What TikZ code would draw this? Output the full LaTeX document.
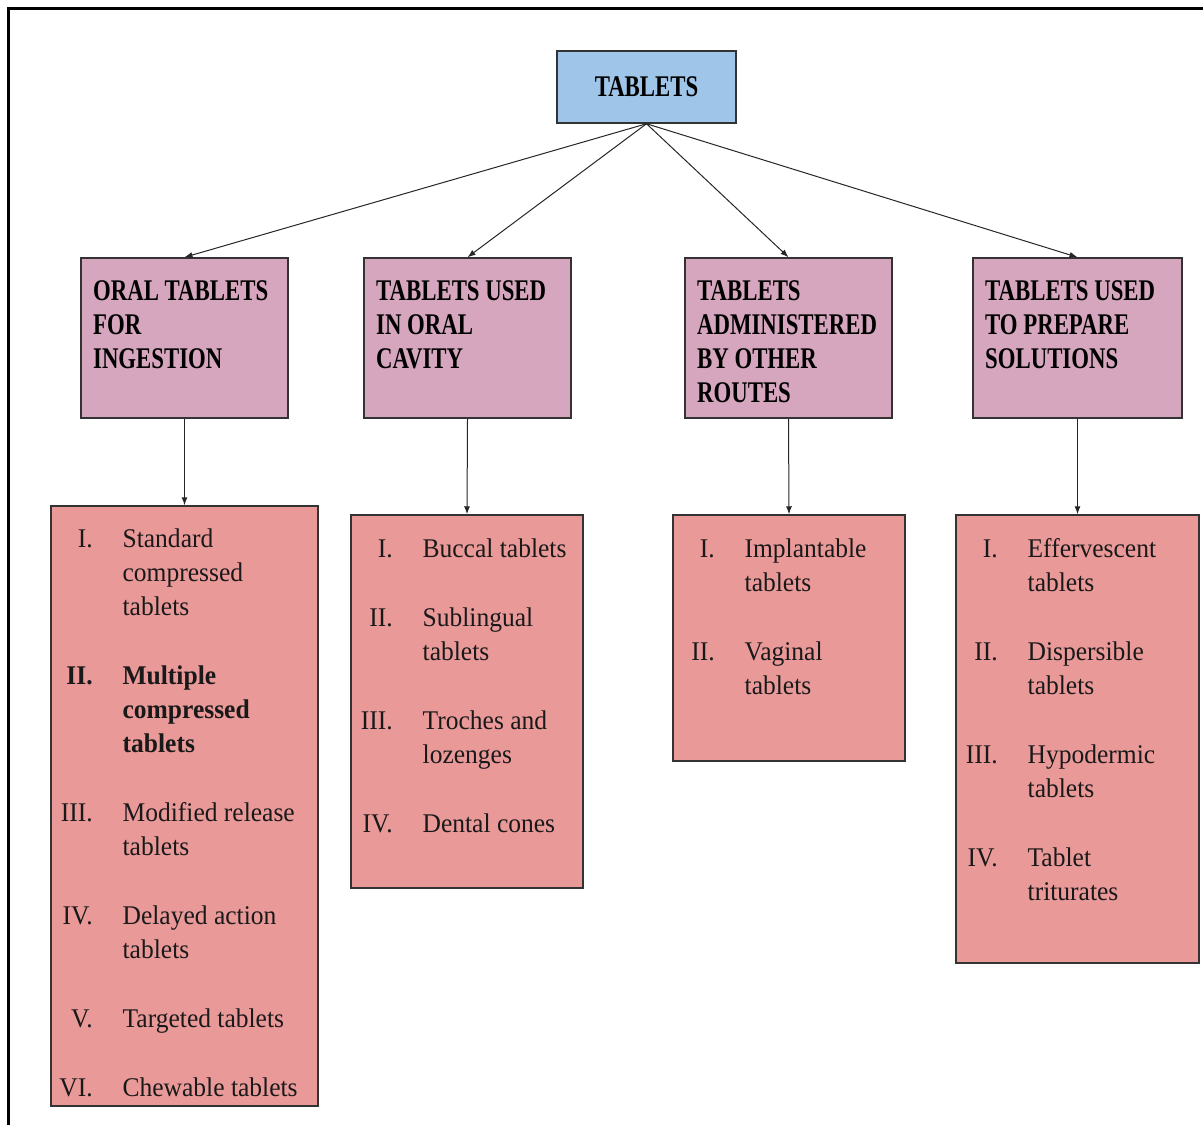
\documentclass[tikz,border=0pt]{standalone}
\usepackage{fontspec}
\usepackage{array}
\usetikzlibrary{positioning,arrows.meta}
\setmainfont{Liberation Serif}
\newfontfamily\headfont[FakeStretch=0.76]{Liberation Serif}
\newfontfamily\itemfont[FakeStretch=0.945]{Liberation Serif}
\newcommand\headsize{\headfont\bfseries\fontsize{15}{17}\selectfont}
\newcommand\itemsize{\itemfont\fontsize{13.5}{17}\selectfont}
\newcolumntype{N}{>{\raggedleft\arraybackslash}p{21pt}@{\hspace{15pt}}l}
\definecolor{topblue}{HTML}{9FC5E8}
\definecolor{catpink}{HTML}{D5A6BD}
\definecolor{listred}{HTML}{EA9999}
\definecolor{edgegray}{HTML}{333333}

\begin{document}
\begin{tikzpicture}[x=0.5pt,y=-0.5pt,
    box/.style={draw=edgegray,line width=0.75pt,inner sep=0pt},
    catbox/.style={box,fill=catpink,minimum width=103.5pt,minimum height=80pt},
    listbox/.style={box,fill=listred},
    headtext/.style={anchor=north west,inner sep=0pt,font=\headsize,xshift=6.25pt,yshift=-11.6pt},
    itemtext/.style={anchor=north west,inner sep=0pt,font=\itemsize,text=black!90,yshift=-9.6pt},
    link/.style={->,draw=black!85,line width=0.5pt},
    >={Latex[length=4pt,width=3pt]}]
  \useasboundingbox (0,0) rectangle (1203,1125);
  % page frame, only top and left show
  \draw[line width=1.5pt] (8,1125) -- (8,8) -- (1203,8);

  % root
  \node[box,fill=topblue,minimum width=89.5pt,minimum height=36pt,font=\headsize] (tablets) at (646.5,87) {TABLETS};

  % categories
  \node[catbox] (oral) at (184.5,338) {};
  \node[catbox] (cavity) at (467.5,338) {};
  \node[catbox] (routes) at (788.5,338) {};
  \node[catbox,minimum width=104.5pt] (solutions) at (1077.5,338) {};
  \node[headtext,align=left] (oralT) at (oral.north west) {ORAL TABLETS\\FOR\\INGESTION};
  \node[headtext,align=left] (cavityT) at (cavity.north west) {TABLETS USED\\IN ORAL\\CAVITY};
  \node[headtext,align=left] (routesT) at (routes.north west) {TABLETS\\ADMINISTERED\\BY OTHER\\ROUTES};
  \node[headtext,align=left] (solutionsT) at (solutions.north west) {TABLETS USED\\TO PREPARE\\SOLUTIONS};

  % lists
  \node[listbox,minimum width=133.5pt,minimum height=300pt] (oralList) at (184.5,806) {};
  \node[listbox,minimum width=116pt,minimum height=186.5pt] (cavityList) at (467,701.5) {};
  \node[listbox,minimum width=116pt,minimum height=123pt] (routesList) at (789,638) {};
  \node[listbox,minimum width=121.5pt,minimum height=224pt] (solutionsList) at (1077.5,739) {};

  \node[itemtext,yshift=0.5pt] (oralItems) at (oralList.north west) {%
    \begin{tabular}{@{}N@{}}
      I. & Standard\\ & compressed\\ & tablets\\[17.5pt]
      \textbf{II.} & \textbf{Multiple}\\ & \textbf{compressed}\\ & \textbf{tablets}\\[17.5pt]
      III. & Modified release\\ & tablets\\[17.5pt]
      IV. & Delayed action\\ & tablets\\[17.5pt]
      V. & Targeted tablets\\[17.5pt]
      VI. & Chewable tablets
    \end{tabular}};
  \node[itemtext] (cavityItems) at (cavityList.north west) {%
    \begin{tabular}{@{}N@{}}
      I. & Buccal tablets\\[17.5pt]
      II. & Sublingual\\ & tablets\\[17.5pt]
      III. & Troches and\\ & lozenges\\[17.5pt]
      IV. & Dental cones
    \end{tabular}};
  \node[itemtext] (routesItems) at (routesList.north west) {%
    \begin{tabular}{@{}N@{}}
      I. & Implantable\\ & tablets\\[17.5pt]
      II. & Vaginal\\ & tablets
    \end{tabular}};
  \node[itemtext] (solutionsItems) at (solutionsList.north west) {%
    \begin{tabular}{@{}N@{}}
      I. & Effervescent\\ & tablets\\[17.5pt]
      II. & Dispersible\\ & tablets\\[17.5pt]
      III. & Hypodermic\\ & tablets\\[17.5pt]
      IV. & Tablet\\ & triturates
    \end{tabular}};

  % connectors
  \foreach \c in {oral,cavity,routes,solutions} {
    \draw[link] (tablets.south) -- (\c.north);
    \draw[link] (\c.south) -- (\c List.north);
  }
\end{tikzpicture}
\end{document}
